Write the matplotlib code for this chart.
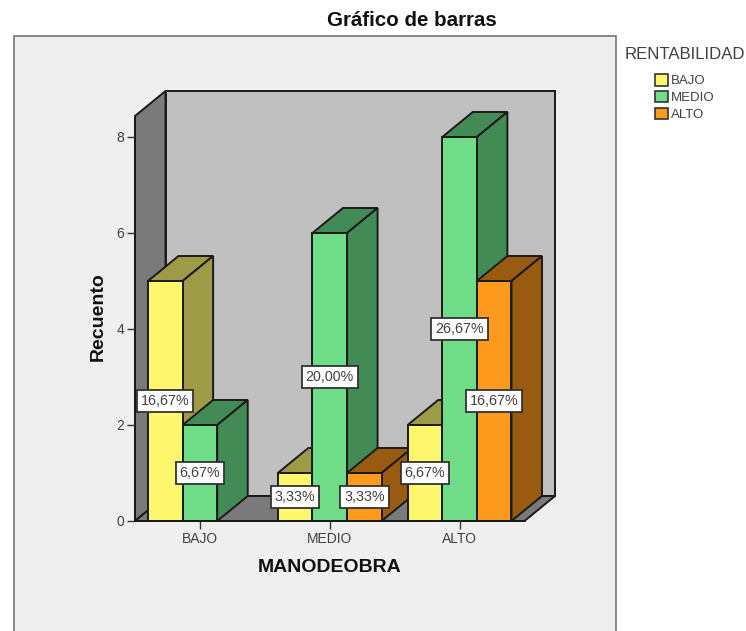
import matplotlib
matplotlib.use('Agg')
import matplotlib.pyplot as plt
from matplotlib.patches import Polygon, Rectangle, Patch

plt.rcParams['font.family'] = ['Liberation Sans', 'DejaVu Sans']

categories = ['BAJO', 'MEDIO', 'ALTO']
series_names = ['BAJO', 'MEDIO', 'ALTO']
counts_bajo = [5, 1, 2]
counts_medio = [2, 6, 8]
counts_alto = [0, 1, 5]
pct_bajo = ['16,67%', '3,33%', '6,67%']
pct_medio = ['6,67%', '20,00%', '26,67%']
pct_alto = ['', '3,33%', '16,67%']
y_ticks = [0, 2, 4, 6, 8]

face_colors = ['#FDF76E', '#6FDD88', '#FD991C']
dark_colors = ['#9E9B46', '#438B55', '#995B10']
text_color = '#404040'
line_color = '#1A1A1A'

W, H = 746, 631
fig = plt.figure(figsize=(W / 100, H / 100), dpi=100, facecolor='white')

# grey panel behind the chart, runs off the bottom of the image
fig.add_artist(Rectangle((13.5 / W, -0.02), (616 - 13.5) / W, (H - 36) / H + 0.02,
                         transform=fig.transFigure, facecolor='#EFEFEF',
                         edgecolor='#808080', linewidth=1.3, zorder=-1))

ax = fig.add_axes([135 / W, 1 - 521 / H, (524.5 - 135) / W, (521 - 116) / H])
ax.patch.set_visible(False)
ax.set_xlim(0, 3)
ax.set_ylim(0, 405 / 48)

depth_x = 30.5 / 129.8
depth_y = 25 / 48
bar_w = 34.6 / 129.8
x_max = 3
y_max = 405 / 48

# walls and floor
ax.add_patch(Polygon([(depth_x, depth_y), (x_max + depth_x, depth_y),
                      (x_max + depth_x, y_max + depth_y), (depth_x, y_max + depth_y)],
                     facecolor='#C0C0C0', edgecolor=line_color, lw=1.4, clip_on=False, zorder=1))
ax.add_patch(Polygon([(0, 0), (depth_x, depth_y), (depth_x, y_max + depth_y), (0, y_max)],
                     facecolor='#7A7A7A', edgecolor=line_color, lw=1.4, clip_on=False, zorder=1))
ax.add_patch(Polygon([(0, 0), (x_max, 0), (x_max + depth_x, depth_y), (depth_x, depth_y)],
                     facecolor='#7A7A7A', edgecolor=line_color, lw=1.4, clip_on=False, zorder=1))

all_counts = [counts_bajo, counts_medio, counts_alto]
all_pct = [pct_bajo, pct_medio, pct_alto]

z = 2
for c in range(len(categories)):
    centre = c + 0.5
    for s in range(3):
        value = all_counts[s][c]
        if value == 0:
            continue
        x0 = centre + (s - 1.5) * bar_w
        x1 = x0 + bar_w
        ax.add_patch(Polygon([(x0, value), (x1, value), (x1 + depth_x, value + depth_y),
                              (x0 + depth_x, value + depth_y)],
                             facecolor=dark_colors[s], edgecolor=line_color, lw=1.4, clip_on=False, zorder=z))
        ax.add_patch(Polygon([(x1, 0), (x1 + depth_x, depth_y), (x1 + depth_x, value + depth_y),
                              (x1, value)],
                             facecolor=dark_colors[s], edgecolor=line_color, lw=1.4, clip_on=False, zorder=z))
        ax.add_patch(Rectangle((x0, 0), bar_w, value, facecolor=face_colors[s],
                               edgecolor=line_color, lw=1.4, clip_on=False, zorder=z))
        z += 1

# value labels on top of everything
for c in range(len(categories)):
    centre = c + 0.5
    for s in range(3):
        if all_pct[s][c] == '':
            continue
        x_mid = centre + (s - 1) * bar_w
        ax.text(x_mid, all_counts[s][c] / 2, all_pct[s][c], ha='center', va='center',
                fontsize=10.3, color=text_color, zorder=50,
                bbox=dict(boxstyle='square,pad=0.27', facecolor='white', edgecolor='#333333', linewidth=1.3))

for side in ['top', 'right']:
    ax.spines[side].set_visible(False)
for side in ['left', 'bottom']:
    ax.spines[side].set_color(line_color)
    ax.spines[side].set_linewidth(1.4)
    ax.spines[side].set_zorder(40)

ax.set_xticks([c + 0.5 for c in range(len(categories))])
ax.set_xticklabels(categories)
ax.set_yticks(y_ticks)
ax.tick_params(axis='both', direction='out', length=5.5, width=1, color='#333333',
               labelcolor=text_color, labelsize=10)
ax.tick_params(axis='x', pad=2.5)
ax.tick_params(axis='y', pad=2.5)

ax.set_xlabel('MANODEOBRA', fontsize=14, fontweight='bold', color='#111111', labelpad=9.5)
ax.set_ylabel('Recuento', fontsize=14, fontweight='bold', color='#111111', labelpad=6.5, y=0.505)

fig.text(412 / W, 1 - 20 / H, 'Gráfico de barras', fontsize=14.8, fontweight='bold',
         color='#111111', ha='center', va='center')

handles = [Patch(facecolor=face_colors[i], edgecolor='#333333', linewidth=1.2, label=series_names[i])
           for i in range(3)]
leg = fig.legend(handles=handles, title='RENTABILIDAD', frameon=False, fontsize=9.5,
                 title_fontsize=12.1, loc='upper center', bbox_to_anchor=(685 / W, 1 - 36 / H),
                 handlelength=0.98, handleheight=0.98, handletextpad=0.22, labelspacing=0.26,
                 borderpad=0.3, labelcolor=text_color)
leg.get_title().set_color(text_color)
leg._legend_box.sep = 9  # more room between legend title and entries

plt.savefig('out.png', dpi=100)
